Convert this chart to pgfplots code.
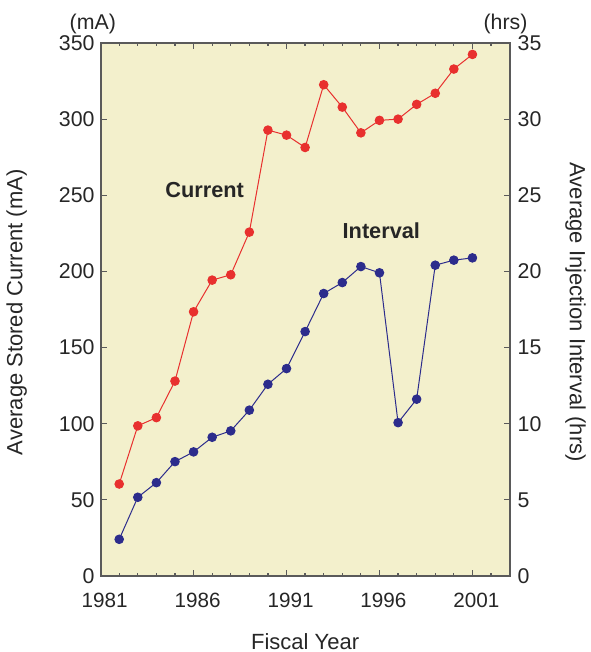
\documentclass[border=0pt]{standalone}
\usepackage{pgfplots}
\pgfplotsset{compat=1.18}
\usepackage{fontspec}
\setmainfont{Liberation Sans}
\definecolor{bg}{RGB}{243,240,204}
\definecolor{cred}{RGB}{232,48,46}
\definecolor{cblue}{RGB}{44,44,140}
\definecolor{framec}{RGB}{90,90,90}

\pgfplotstableread{
year current
1982 60.4
1983 98.6
1984 104
1985 128
1986 173.5
1987 194.3
1988 197.8
1989 225.8
1990 292.8
1991 289.5
1992 281.4
1993 322.6
1994 307.9
1995 291
1996 299.2
1997 300
1998 309.7
1999 317
2000 332.9
2001 342.5
}\currenttable

\pgfplotstableread{
year interval
1982 2.41
1983 5.17
1984 6.13
1985 7.51
1986 8.15
1987 9.11
1988 9.53
1989 10.89
1990 12.59
1991 13.62
1992 16.05
1993 18.55
1994 19.27
1995 20.32
1996 19.91
1997 10.07
1998 11.61
1999 20.41
2000 20.74
2001 20.89
}\intervaltable

\begin{document}
\begin{tikzpicture}
\pgfplotsset{
  common/.style={
    scale only axis, width=306.75pt, height=399.75pt,
    xmin=1981, xmax=2003,
    /pgf/number format/assume math mode=true,
    yticklabel style={font=\fontsize{16}{18}\selectfont, text=black!85},
    xticklabel style={font=\fontsize{15.5}{18}\selectfont, text=black!85},
    major tick length=4.5pt, minor tick length=2.6pt,
    clip=false,
  }
}
\begin{axis}[common,
  axis background/.style={fill=bg},
  axis line style={framec, line width=1.5pt},
  tick style={framec, line width=0.9pt},
  ymin=0, ymax=350, ytick={0,50,...,350},
  xtick={1981,1986,...,2001}, minor xtick={1981,...,2003},
  xticklabel style={/pgf/number format/1000 sep={}, xshift=3pt, yshift=-9pt},
  yticklabel style={xshift=-1pt},
  xtick pos=both, ytick pos=both,
  xticklabel pos=bottom, yticklabel pos=left,
  xlabel={Fiscal Year}, ylabel={Average Stored Current (mA)},
  every axis x label/.style={at={(axis description cs:0.5,0)}, anchor=base, inner sep=0pt, yshift=-55pt, font=\fontsize{16.5}{18}\selectfont, text=black!85},
  every axis y label/.style={at={(axis description cs:0,0.495)}, xshift=-63pt, rotate=90, anchor=center, font=\fontsize{16.5}{18}\selectfont, text=black!85},
]
\path (rel axis cs:-0.246,-0.1426) rectangle (rel axis cs:1.194,1.0807);
\addplot[cred, line width=0.75pt, mark=*, mark size=3.2pt, mark options={fill=cred, draw=cred}] table[x=year, y=current] {\currenttable};
\node[font=\bfseries\fontsize{16.3}{18}\selectfont, text=black!85] at (axis cs:1986.6,253.6) {Current};
\node[font=\bfseries\fontsize{16.3}{18}\selectfont, text=black!85] at (axis cs:1996.1,227) {Interval};
\node[font=\fontsize{16}{18}\selectfont, text=black!85] at (rel axis cs:-0.019,1) [yshift=14pt] {(mA)};
\node[font=\fontsize{16}{18}\selectfont, text=black!85] at (rel axis cs:0.99,1) [yshift=14pt] {(hrs)};
\end{axis}
\begin{axis}[common,
  ymin=0, ymax=35, ytick={0,5,...,35},
  axis x line=none, axis y line*=right,
  y axis line style={draw=none}, ytick style={draw=none},
  yticklabel style={xshift=2.5pt},
  ylabel={Average Injection Interval (hrs)},
  every axis y label/.style={at={(axis description cs:1,0.495)}, xshift=49.5pt, rotate=-90, anchor=center, font=\fontsize{16.5}{18}\selectfont, text=black!85},
]
\addplot[cblue, line width=0.75pt, mark=*, mark size=3.2pt, mark options={fill=cblue, draw=cblue}] table[x=year, y=interval] {\intervaltable};
\end{axis}
\end{tikzpicture}
\end{document}
